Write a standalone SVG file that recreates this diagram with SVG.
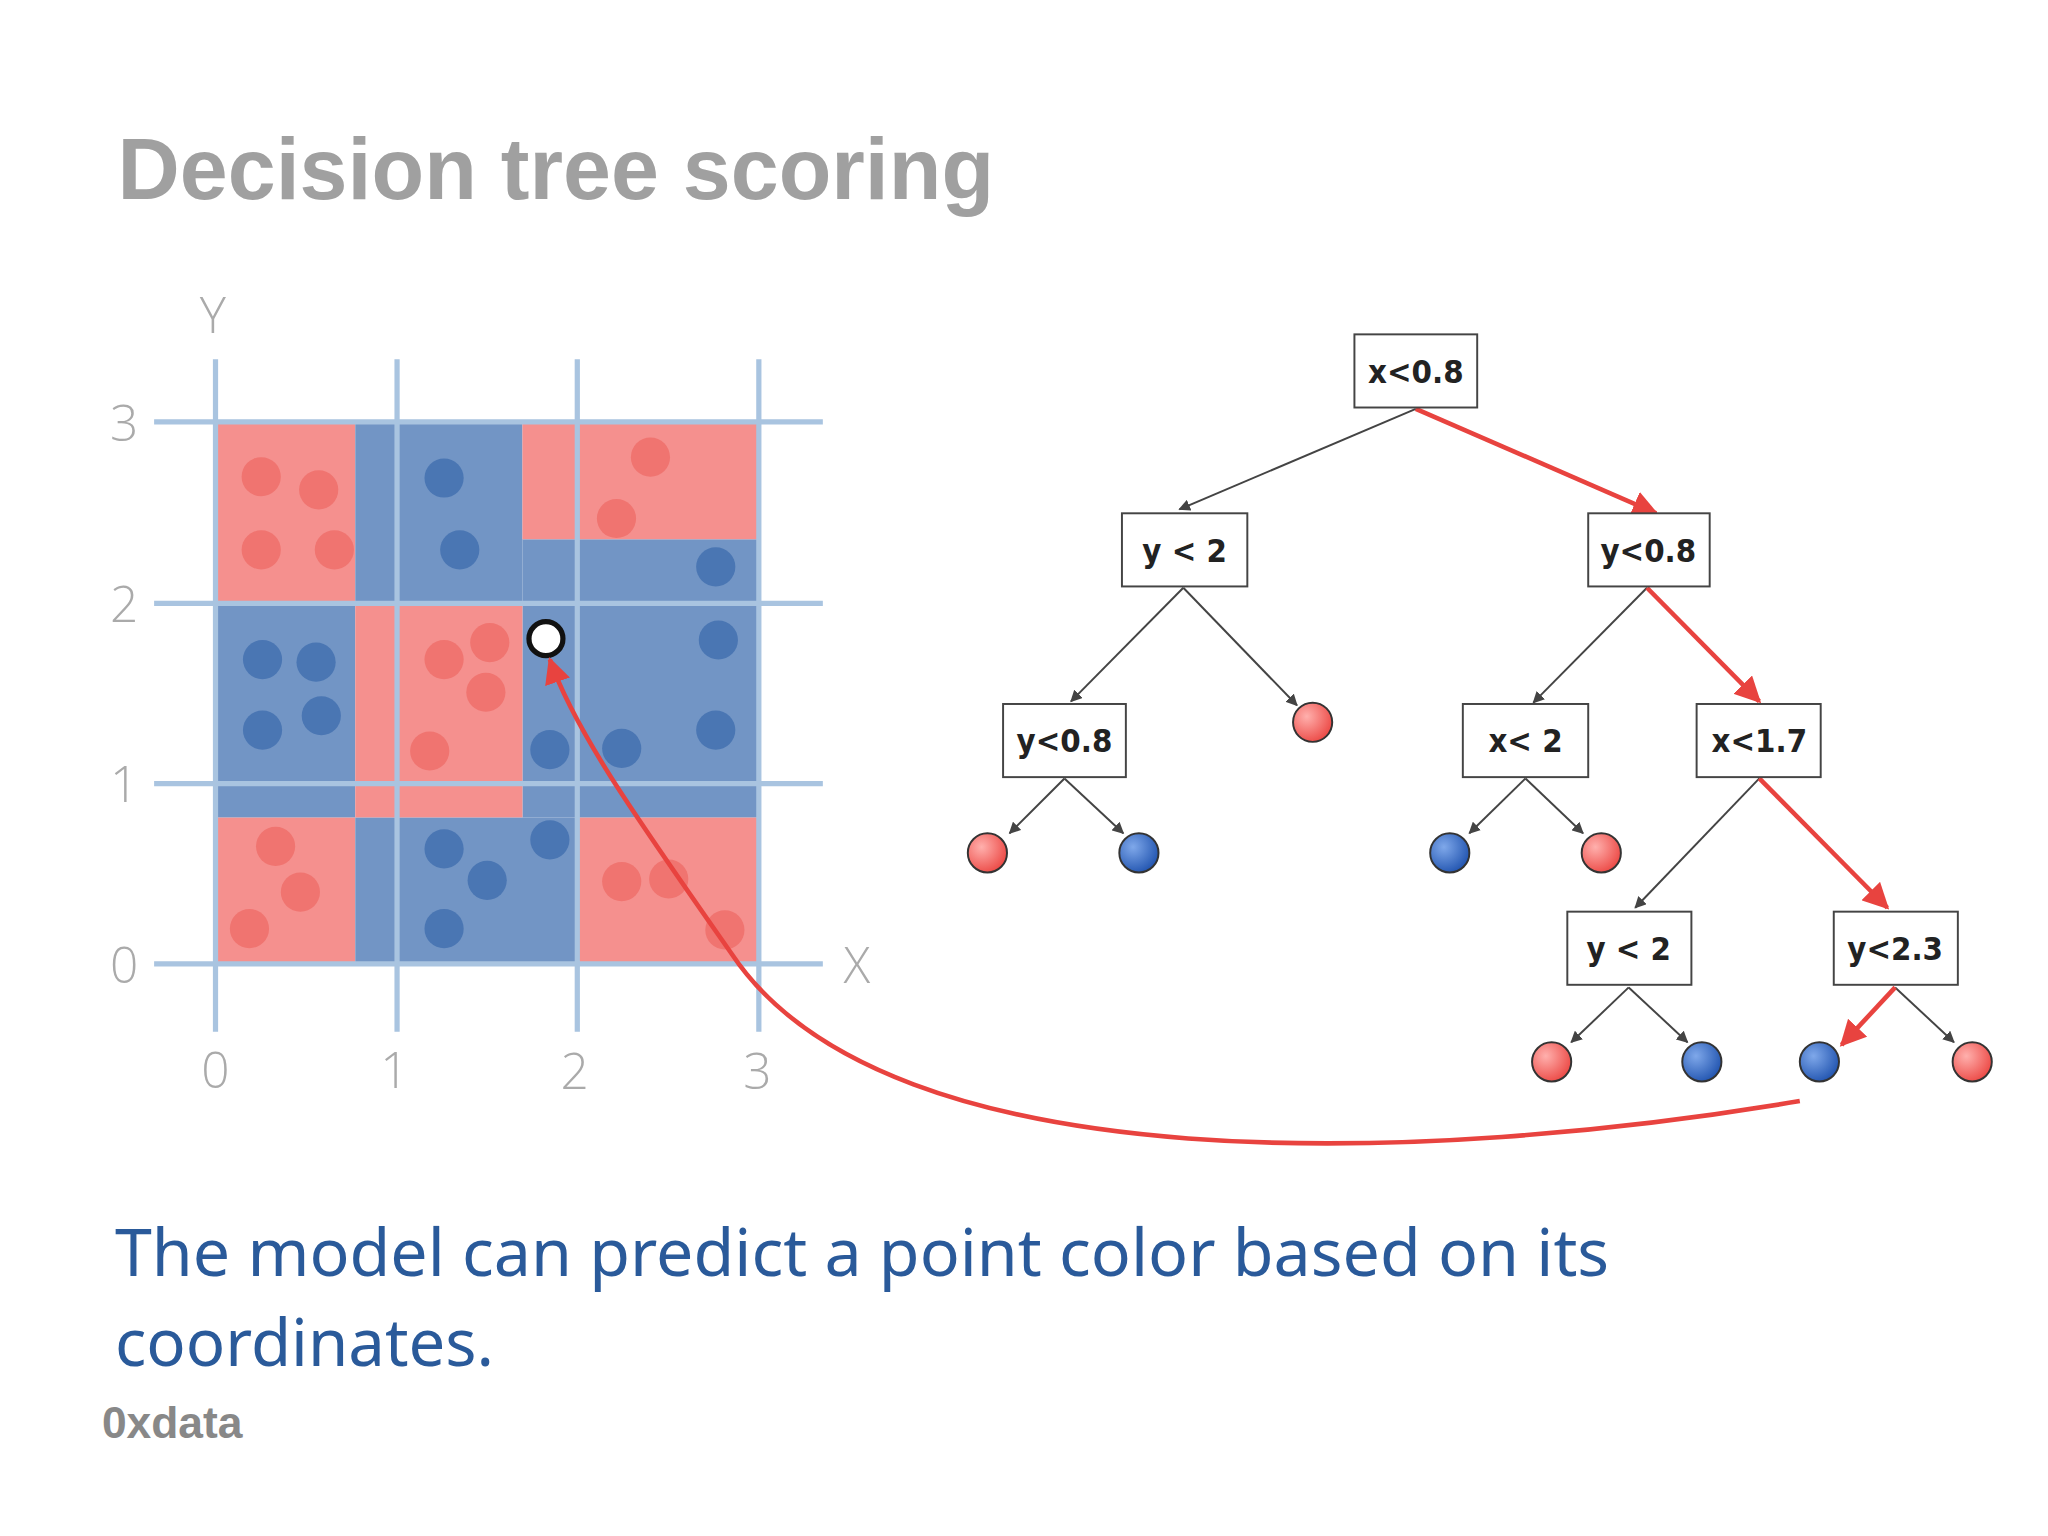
<svg xmlns="http://www.w3.org/2000/svg" width="2048" height="1536" viewBox="0 0 2048 1536">
<style>
.grid{stroke:#a9c4e0;stroke-width:4;fill:none}
.ax{font-family:"Open Sans",sans-serif;font-weight:300;font-size:38px;fill:#aaa;text-anchor:middle}
.rr{fill:#f48a88;opacity:.95}
.rb{fill:#6a8fc2;opacity:.95}
.dr{fill:#f07470}
.db{fill:#4a76b3}
.box{fill:#fff;stroke:#444;stroke-width:1.5}
.bt{font-family:"DejaVu Sans Condensed","Liberation Sans Narrow",sans-serif;font-weight:bold;font-size:25px;fill:#222;text-anchor:middle}
.e{stroke:#444;stroke-width:1.5;fill:none;marker-end:url(#ag)}
.er{stroke:#e8433f;stroke-width:3.5;fill:none;marker-end:url(#ar)}
</style>
<defs>
<marker id="ag" viewBox="0 0 10 10" refX="9" refY="5" markerWidth="9" markerHeight="9" orient="auto" markerUnits="userSpaceOnUse"><path d="M0,0L10,5L0,10z" fill="#444"/></marker>
<marker id="ar" viewBox="0 0 10 10" refX="9" refY="5" markerWidth="20" markerHeight="20" orient="auto" markerUnits="userSpaceOnUse"><path d="M0,0L10,5L0,10z" fill="#e8433f"/></marker>
<radialGradient id="gr" cx="0.35" cy="0.35" r="0.7"><stop offset="0" stop-color="#ffb0ad"/><stop offset="1" stop-color="#ec4a46"/></radialGradient>
<radialGradient id="gb" cx="0.35" cy="0.35" r="0.7"><stop offset="0" stop-color="#7fa8ea"/><stop offset="1" stop-color="#2255b0"/></radialGradient>
</defs>
<rect width="2048" height="1536" fill="#fff"/>
<g transform="scale(1.3061)">
<text x="90" y="152" font-family="Liberation Sans,sans-serif" font-weight="bold" font-size="66" fill="#a0a0a0">Decision tree scoring</text>
<g id="plot">
<rect class="rr" x="165" y="323" width="107" height="139"/>
<rect class="rb" x="272" y="323" width="128" height="139"/>
<rect class="rr" x="400" y="323" width="182" height="90"/>
<rect class="rb" x="400" y="413" width="182" height="213"/>
<rect class="rb" x="165" y="462" width="107" height="164"/>
<rect class="rr" x="272" y="462" width="128" height="164"/>
<rect class="rr" x="165" y="626" width="107" height="112"/>
<rect class="rb" x="272" y="626" width="170" height="112"/>
<rect class="rr" x="442" y="626" width="140" height="112"/>
<g class="dr"><circle cx="200" cy="365" r="15"/><circle cx="244" cy="375" r="15"/><circle cx="200" cy="421" r="15"/><circle cx="256" cy="421" r="15"/><circle cx="498" cy="350" r="15"/><circle cx="472" cy="397" r="15"/><circle cx="340" cy="505" r="15"/><circle cx="375" cy="492" r="15"/><circle cx="372" cy="530" r="15"/><circle cx="329" cy="575" r="15"/><circle cx="211" cy="648" r="15"/><circle cx="230" cy="683" r="15"/><circle cx="191" cy="711" r="15"/><circle cx="476" cy="675" r="15"/><circle cx="512" cy="673" r="15"/><circle cx="555" cy="712" r="15"/></g>
<g class="db"><circle cx="340" cy="366" r="15"/><circle cx="352" cy="421" r="15"/><circle cx="548" cy="434" r="15"/><circle cx="550" cy="490" r="15"/><circle cx="548" cy="559" r="15"/><circle cx="201" cy="505" r="15"/><circle cx="242" cy="507" r="15"/><circle cx="201" cy="559" r="15"/><circle cx="246" cy="548" r="15"/><circle cx="421" cy="574" r="15"/><circle cx="476" cy="573" r="15"/><circle cx="340" cy="650" r="15"/><circle cx="373" cy="674" r="15"/><circle cx="421" cy="643" r="15"/><circle cx="340" cy="711" r="15"/></g>
<path class="grid" d="M165,275V790M304,275V790M442,275V790M581,275V790M118,323H630M118,462H630M118,600H630M118,738H630"/>
<text class="ax" x="95" y="338">3</text><text class="ax" x="95" y="476">2</text><text class="ax" x="95" y="614">1</text><text class="ax" x="95" y="753">0</text>
<text class="ax" x="165" y="833">0</text><text class="ax" x="302" y="833">1</text><text class="ax" x="440" y="834">2</text><text class="ax" x="580" y="834">3</text>
<text class="ax" x="163" y="255">Y</text><text class="ax" x="656" y="753">X</text>
<circle cx="418" cy="489" r="13" fill="#fff" stroke="#111" stroke-width="4"/>
</g>
<g id="connectors">
<path class="e" d="M1084,313L903,390"/>
<path class="e" d="M906,450L820,537"/><path class="e" d="M906,450L993,540"/>
<path class="e" d="M1261,450L1174,538"/>
<path class="e" d="M815,596L773,638"/><path class="e" d="M815,596L860,638"/>
<path class="e" d="M1168,596L1125,638"/><path class="e" d="M1168,596L1212,638"/>
<path class="e" d="M1347,596L1252,695"/>
<path class="e" d="M1247,756L1203,798"/><path class="e" d="M1247,756L1292,798"/>
<path class="e" d="M1451,756L1496,798"/>
<path class="er" d="M1084,313L1268,393"/>
<path class="er" d="M1261,450L1347,537"/>
<path class="er" d="M1347,596L1445,695"/>
<path class="er" d="M1451,756L1410,800"/>
<path class="er" d="M1378,843C1100,890 680,910 560,730C490,630 440,560 421,505" stroke-width="3"/>
</g>
<g id="n1"><rect class="box" x="1037" y="256" width="94" height="56"/><text class="bt" x="1084" y="293">x&lt;0.8</text></g>
<g id="n2"><rect class="box" x="859" y="393" width="96" height="56"/><text class="bt" x="907" y="430">y &lt; 2</text></g>
<g id="n3"><rect class="box" x="1216" y="393" width="93" height="56"/><text class="bt" x="1262" y="430">y&lt;0.8</text></g>
<g id="n4"><rect class="box" x="768" y="539" width="94" height="56"/><text class="bt" x="815" y="576">y&lt;0.8</text></g>
<g id="n5"><rect class="box" x="1120" y="539" width="96" height="56"/><text class="bt" x="1168" y="576">x&lt; 2</text></g>
<g id="n6"><rect class="box" x="1299" y="539" width="95" height="56"/><text class="bt" x="1347" y="576">x&lt;1.7</text></g>
<g id="n7"><rect class="box" x="1200" y="698" width="95" height="56"/><text class="bt" x="1247" y="735">y &lt; 2</text></g>
<g id="n8"><rect class="box" x="1404" y="698" width="95" height="56"/><text class="bt" x="1451" y="735">y&lt;2.3</text></g>
<g id="leaves" stroke="#333" stroke-width="1.5">
<circle cx="1005" cy="553" r="15" fill="url(#gr)"/>
<circle cx="756" cy="653" r="15" fill="url(#gr)"/>
<circle cx="872" cy="653" r="15" fill="url(#gb)"/>
<circle cx="1110" cy="653" r="15" fill="url(#gb)"/>
<circle cx="1226" cy="653" r="15" fill="url(#gr)"/>
<circle cx="1188" cy="813" r="15" fill="url(#gr)"/>
<circle cx="1303" cy="813" r="15" fill="url(#gb)"/>
<circle cx="1393" cy="813" r="15" fill="url(#gb)"/>
<circle cx="1510" cy="813" r="15" fill="url(#gr)"/>
</g>
<text x="88" y="977" font-family="Noto Sans,sans-serif" font-size="50" fill="#2a5a9a" textLength="1144" lengthAdjust="spacingAndGlyphs">The model can predict a point color based on its</text>
<text x="88" y="1046" font-family="Noto Sans,sans-serif" font-size="50" fill="#2a5a9a">coordinates.</text>
<text x="78" y="1101" font-family="Liberation Sans,sans-serif" font-weight="bold" font-size="34" fill="#888">0xdata</text>
</g>
</svg>
